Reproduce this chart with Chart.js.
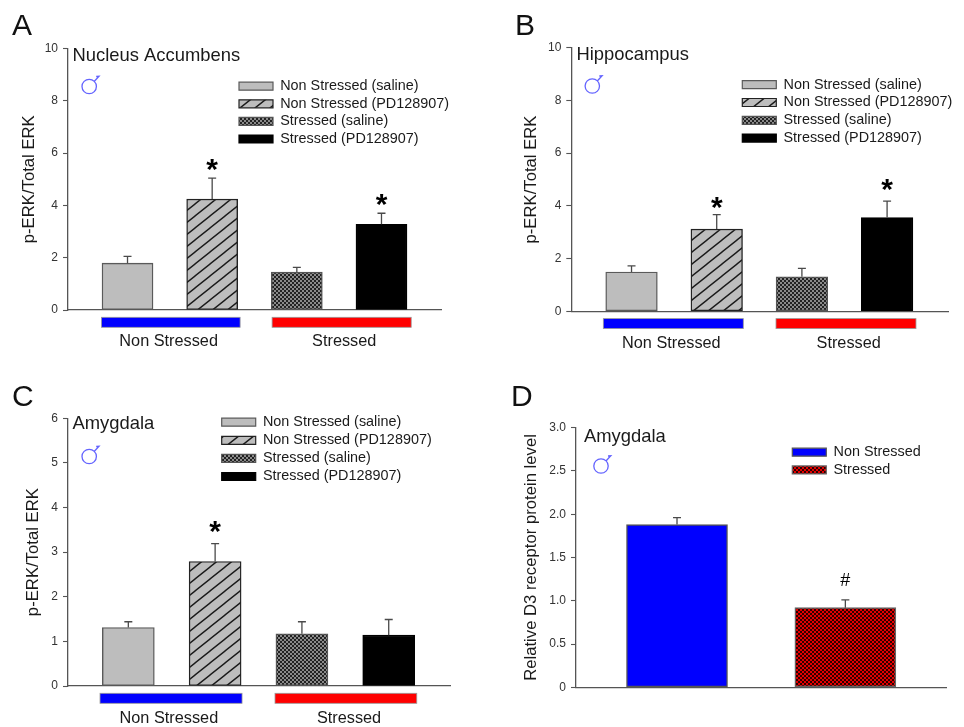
<!DOCTYPE html>
<html>
<head>
<meta charset="utf-8">
<title>p-ERK panels</title>
<script src="https://cdn.jsdelivr.net/npm/chart.js@4"></script>
<style>
    html, body { margin: 0; padding: 0; background: #fff; }
    #page { position: relative; width: 964px; height: 727px; overflow: hidden; }
    canvas { position: absolute; }
</style>
</head>
<body>
<div id="page">
    <canvas id="chartA" width="482" height="363" style="left:0;top:0"></canvas>
    <canvas id="chartB" width="482" height="363" style="left:482px;top:0"></canvas>
    <canvas id="chartC" width="482" height="364" style="left:0;top:363px"></canvas>
    <canvas id="chartD" width="482" height="364" style="left:482px;top:363px"></canvas>
</div>
<script>
// values
const drugCategories = ["Non Stressed (saline)", "Non Stressed (PD128907)", "Stressed (saline)", "Stressed (PD128907)"];
const stressCategories = ["Non Stressed", "Stressed"];
const groupLabels = ["Non Stressed", "Stressed"];

const valuesA = [1.79, 4.24, 1.45, 3.28];
const upperA = [2.05, 5.04, 1.63, 3.70];
const markA = [null, 5.57, null, 4.26];

const valuesB = [1.49, 3.12, 1.31, 3.56];
const upperB = [1.72, 3.67, 1.63, 4.18];
const markB = [null, 4.16, null, 4.83];

const valuesC = [1.31, 2.79, 1.17, 1.14];
const upperC = [1.44, 3.19, 1.44, 1.49];
const markC = [null, 3.59, null, null];

const valuesD = [1.88, 0.92];
const upperD = [1.96, 1.01];
const markD = [null, 1.23];

const FONT = "'Liberation Sans', Arial, sans-serif";
Chart.defaults.font.family = FONT;
Chart.defaults.animation = false;

function tile(w, h, paint) {
    const c = document.createElement('canvas');
    c.width = w;
    c.height = h;
    paint(c.getContext('2d'));
    return c.getContext('2d').createPattern(c, 'repeat');
}

const hatchFill = tile(15, 12, function (g) {
    g.fillStyle = '#bdbdbd';
    g.fillRect(0, 0, 15, 12);
    g.strokeStyle = '#1a1a1a';
    g.lineWidth = 1.4;
    g.beginPath();
    g.moveTo(-5, 16); g.lineTo(20, -4);
    g.moveTo(-5, 4); g.lineTo(5, -4);
    g.moveTo(10, 16); g.lineTo(20, 8);
    g.stroke();
});

function checker(dark, light) {
    return tile(4, 4, function (g) {
        g.fillStyle = dark;
        g.fillRect(0, 0, 4, 4);
        g.fillStyle = light;
        g.fillRect(0, 0, 2, 2);
        g.fillRect(2, 2, 2, 2);
    });
}

const greyChecker = checker('#222', '#8a8a8a');
const redChecker = checker('#300000', '#e60000');

const drugFills = ['#bdbdbd', hatchFill, greyChecker, '#000'];
const drugBorders = ['#5a5a5a', '#222', '#555', '#000'];
const stressFills = ['#0000ff', redChecker];
const stressBorders = ['#555', '#666'];

function drawMale(ctx, x, y) {
    ctx.save();
    ctx.strokeStyle = '#6464ff';
    ctx.lineWidth = 1.3;
    ctx.beginPath();
    ctx.arc(x, y, 7.2, 0, Math.PI * 2);
    ctx.moveTo(x + 5.2, y - 5.2);
    ctx.lineTo(x + 9.8, y - 10.2);
    ctx.lineTo(x + 7, y - 10);
    ctx.stroke();
    ctx.restore();
}

function makePanel(p) {
    const ctxEl = document.getElementById(p.id);
    const W = ctxEl.width;
    const H = ctxEl.height;

    // everything that is not a bar or an axis
    const panelExtras = {
        id: 'panelExtras',
        afterLayout: function (chart) {
            const lg = chart.legend;
            const pad = chart.options.plugins.legend.labels.padding;
            lg.left = p.legendX - pad;
            lg.top = p.legendY - pad;
            lg.right = W;
            lg.bottom = H;
        },
        afterDatasetsDraw: function (chart) {
            const c = chart.ctx;
            const x = chart.scales.x;
            const y = chart.scales.y;
            const bars = chart.getDatasetMeta(0).data;

            // error bars
            c.save();
            c.strokeStyle = '#4a4a4a';
            c.lineWidth = 1.3;
            p.upper.forEach(function (u, i) {
                const bx = bars[i].x;
                const top = y.getPixelForValue(u);
                c.beginPath();
                c.moveTo(bx, y.getPixelForValue(p.values[i]));
                c.lineTo(bx, top);
                c.moveTo(bx - p.capHalf, top);
                c.lineTo(bx + p.capHalf, top);
                c.stroke();
            });
            c.restore();

            // significance marks
            c.save();
            c.fillStyle = '#000';
            c.textAlign = 'center';
            p.marks.forEach(function (m, i) {
                if (m === null) return;
                const my = y.getPixelForValue(m);
                if (p.markText === '*') {
                    c.font = 'bold 30px ' + FONT;
                    c.textBaseline = 'alphabetic';
                    c.fillText('*', bars[i].x, my + 15);
                } else {
                    c.font = '18px ' + FONT;
                    c.textBaseline = 'middle';
                    c.fillText(p.markText, bars[i].x, my);
                }
            });
            c.restore();

            // blue and red strips under the axis
            if (p.groupStart) {
                c.save();
                const b = chart.chartArea.bottom;
                groupLabels.forEach(function (label, i) {
                    const x0 = x.getPixelForValue(p.groupStart[i]);
                    const x1 = x.getPixelForValue(p.groupEnd[i]);
                    c.fillStyle = i === 0 ? '#0000ff' : '#ff0000';
                    c.fillRect(x0, b + 7.3, x1 - x0, 10);
                    c.strokeStyle = '#999';
                    c.lineWidth = 0.8;
                    c.strokeRect(x0, b + 7.3, x1 - x0, 10);
                    c.fillStyle = '#1a1a1a';
                    c.font = '16.3px ' + FONT;
                    c.textAlign = 'center';
                    c.textBaseline = 'middle';
                    c.fillText(label, x.getPixelForValue(p.groupCenter[i]), b + p.groupTextY);
                });
                c.restore();
            }

            // panel letter, region name and male symbol
            c.save();
            c.fillStyle = '#111';
            c.textAlign = 'left';
            c.textBaseline = 'alphabetic';
            c.font = '30px ' + FONT;
            c.fillText(p.letter, p.letterX, p.letterY);
            c.fillStyle = '#1a1a1a';
            c.font = '18.4px ' + FONT;
            c.textBaseline = 'middle';
            c.fillText(p.region, p.regionX, p.regionY);
            c.restore();
            drawMale(c, p.maleX, p.maleY);
        }
    };

    return new Chart(ctxEl, {
        type: 'bar',
        data: {
            datasets: [{
                data: p.values.map(function (v, i) { return { x: i + 1, y: v }; }),
                backgroundColor: p.fills,
                borderColor: p.borders,
                borderWidth: 1.4,
                borderSkipped: false,
                barThickness: p.barWidth
            }]
        },
        options: {
            responsive: false,
            layout: { padding: { left: 0, top: p.plotT, right: W - p.plotR, bottom: H - p.plotB } },
            scales: {
                x: {
                    type: 'linear',
                    offset: false,
                    min: p.xMin,
                    max: p.xMax,
                    grid: { display: false, drawTicks: false },
                    ticks: { display: false },
                    border: { display: true, color: '#555', width: 1.3 },
                    afterFit: function (s) { s.height = 0; }
                },
                y: {
                    min: 0,
                    max: p.yMax,
                    ticks: { stepSize: p.yStep, padding: 5, color: '#333', font: { size: 12 } },
                    grid: { drawOnChartArea: false, tickLength: 5, tickColor: '#555', tickWidth: 1.1 },
                    border: { color: '#555', width: 1.3 },
                    title: {
                        display: true,
                        text: p.yTitle,
                        color: '#1a1a1a',
                        font: { size: 16.7 },
                        padding: { top: p.yTitleX - 9, bottom: 0 }
                    },
                    afterFit: function (s) { s.width = p.plotL; }
                }
            },
            plugins: {
                title: { display: false },
                tooltip: { enabled: false },
                legend: {
                    position: 'chartArea',
                    align: 'start',
                    labels: {
                        boxWidth: 34,
                        boxHeight: 8,
                        padding: p.legendGap,
                        color: '#1a1a1a',
                        font: { size: 14.4 },
                        generateLabels: function () {
                            return p.categories.map(function (name, i) {
                                return {
                                    text: name,
                                    fillStyle: p.fills[i],
                                    strokeStyle: p.borders[i],
                                    lineWidth: 1.2,
                                    hidden: false,
                                    fontColor: '#1a1a1a'
                                };
                            });
                        }
                    }
                }
            }
        },
        plugins: [panelExtras]
    });
}

makePanel({
    id: 'chartA', letter: 'A', letterX: 12, letterY: 35,
    region: 'Nucleus Accumbens', regionX: 72.5, regionY: 56,
    maleX: 89.2, maleY: 86.5,
    categories: drugCategories, values: valuesA, upper: upperA, marks: markA, markText: '*',
    fills: drugFills, borders: drugBorders,
    plotL: 68, plotT: 48.5, plotR: 441, plotB: 310,
    xMin: 0.297, xMax: 4.703, barWidth: 51, capHalf: 4,
    yMax: 10, yStep: 2, yTitle: 'p-ERK/Total ERK', yTitleX: 28,
    legendX: 239, legendY: 79, legendGap: 3.2,
    groupStart: [0.693, 2.708], groupEnd: [2.33, 4.351], groupCenter: [1.486, 3.56], groupTextY: 32
});

makePanel({
    id: 'chartB', letter: 'B', letterX: 33, letterY: 35,
    region: 'Hippocampus', regionX: 94.5, regionY: 55,
    maleX: 110.3, maleY: 86,
    categories: drugCategories, values: valuesB, upper: upperB, marks: markB, markText: '*',
    fills: drugFills, borders: drugBorders,
    plotL: 89.3, plotT: 47.7, plotR: 466, plotB: 311.3,
    xMin: 0.293, xMax: 4.715, barWidth: 51.6, capHalf: 4,
    yMax: 10, yStep: 2, yTitle: 'p-ERK/Total ERK', yTitleX: 48.7,
    legendX: 260.3, legendY: 77.5, legendGap: 3.4,
    groupStart: [0.669, 2.696], groupEnd: [2.312, 4.339], groupCenter: [1.467, 3.549], groupTextY: 32
});

makePanel({
    id: 'chartC', letter: 'C', letterX: 12, letterY: 43,
    region: 'Amygdala', regionX: 72.5, regionY: 61,
    maleX: 89.2, maleY: 93.5,
    categories: drugCategories, values: valuesC, upper: upperC, marks: markC, markText: '*',
    fills: drugFills, borders: drugBorders,
    plotL: 68, plotT: 55.3, plotR: 450, plotB: 323,
    xMin: 0.305, xMax: 4.706, barWidth: 52, capHalf: 4,
    yMax: 6, yStep: 1, yTitle: 'p-ERK/Total ERK', yTitleX: 32.3,
    legendX: 221.7, legendY: 52, legendGap: 3.7,
    groupStart: [0.674, 2.69], groupEnd: [2.31, 4.323], groupCenter: [1.467, 3.543], groupTextY: 33
});

makePanel({
    id: 'chartD', letter: 'D', letterX: 29, letterY: 43,
    region: 'Amygdala', regionX: 102, regionY: 73.7,
    maleX: 119, maleY: 103,
    categories: stressCategories, values: valuesD, upper: upperD, marks: markD, markText: '#',
    fills: stressFills, borders: stressBorders,
    plotL: 94, plotT: 64.7, plotR: 464.7, plotB: 324.3,
    xMin: 0.4, xMax: 2.602, barWidth: 101, capHalf: 4,
    yMax: 3, yStep: 0.5, yTitle: 'Relative D3 receptor protein level', yTitleX: 48.7,
    legendX: 310.3, legendY: 82, legendGap: 3.3
});
</script>
</body>
</html>
